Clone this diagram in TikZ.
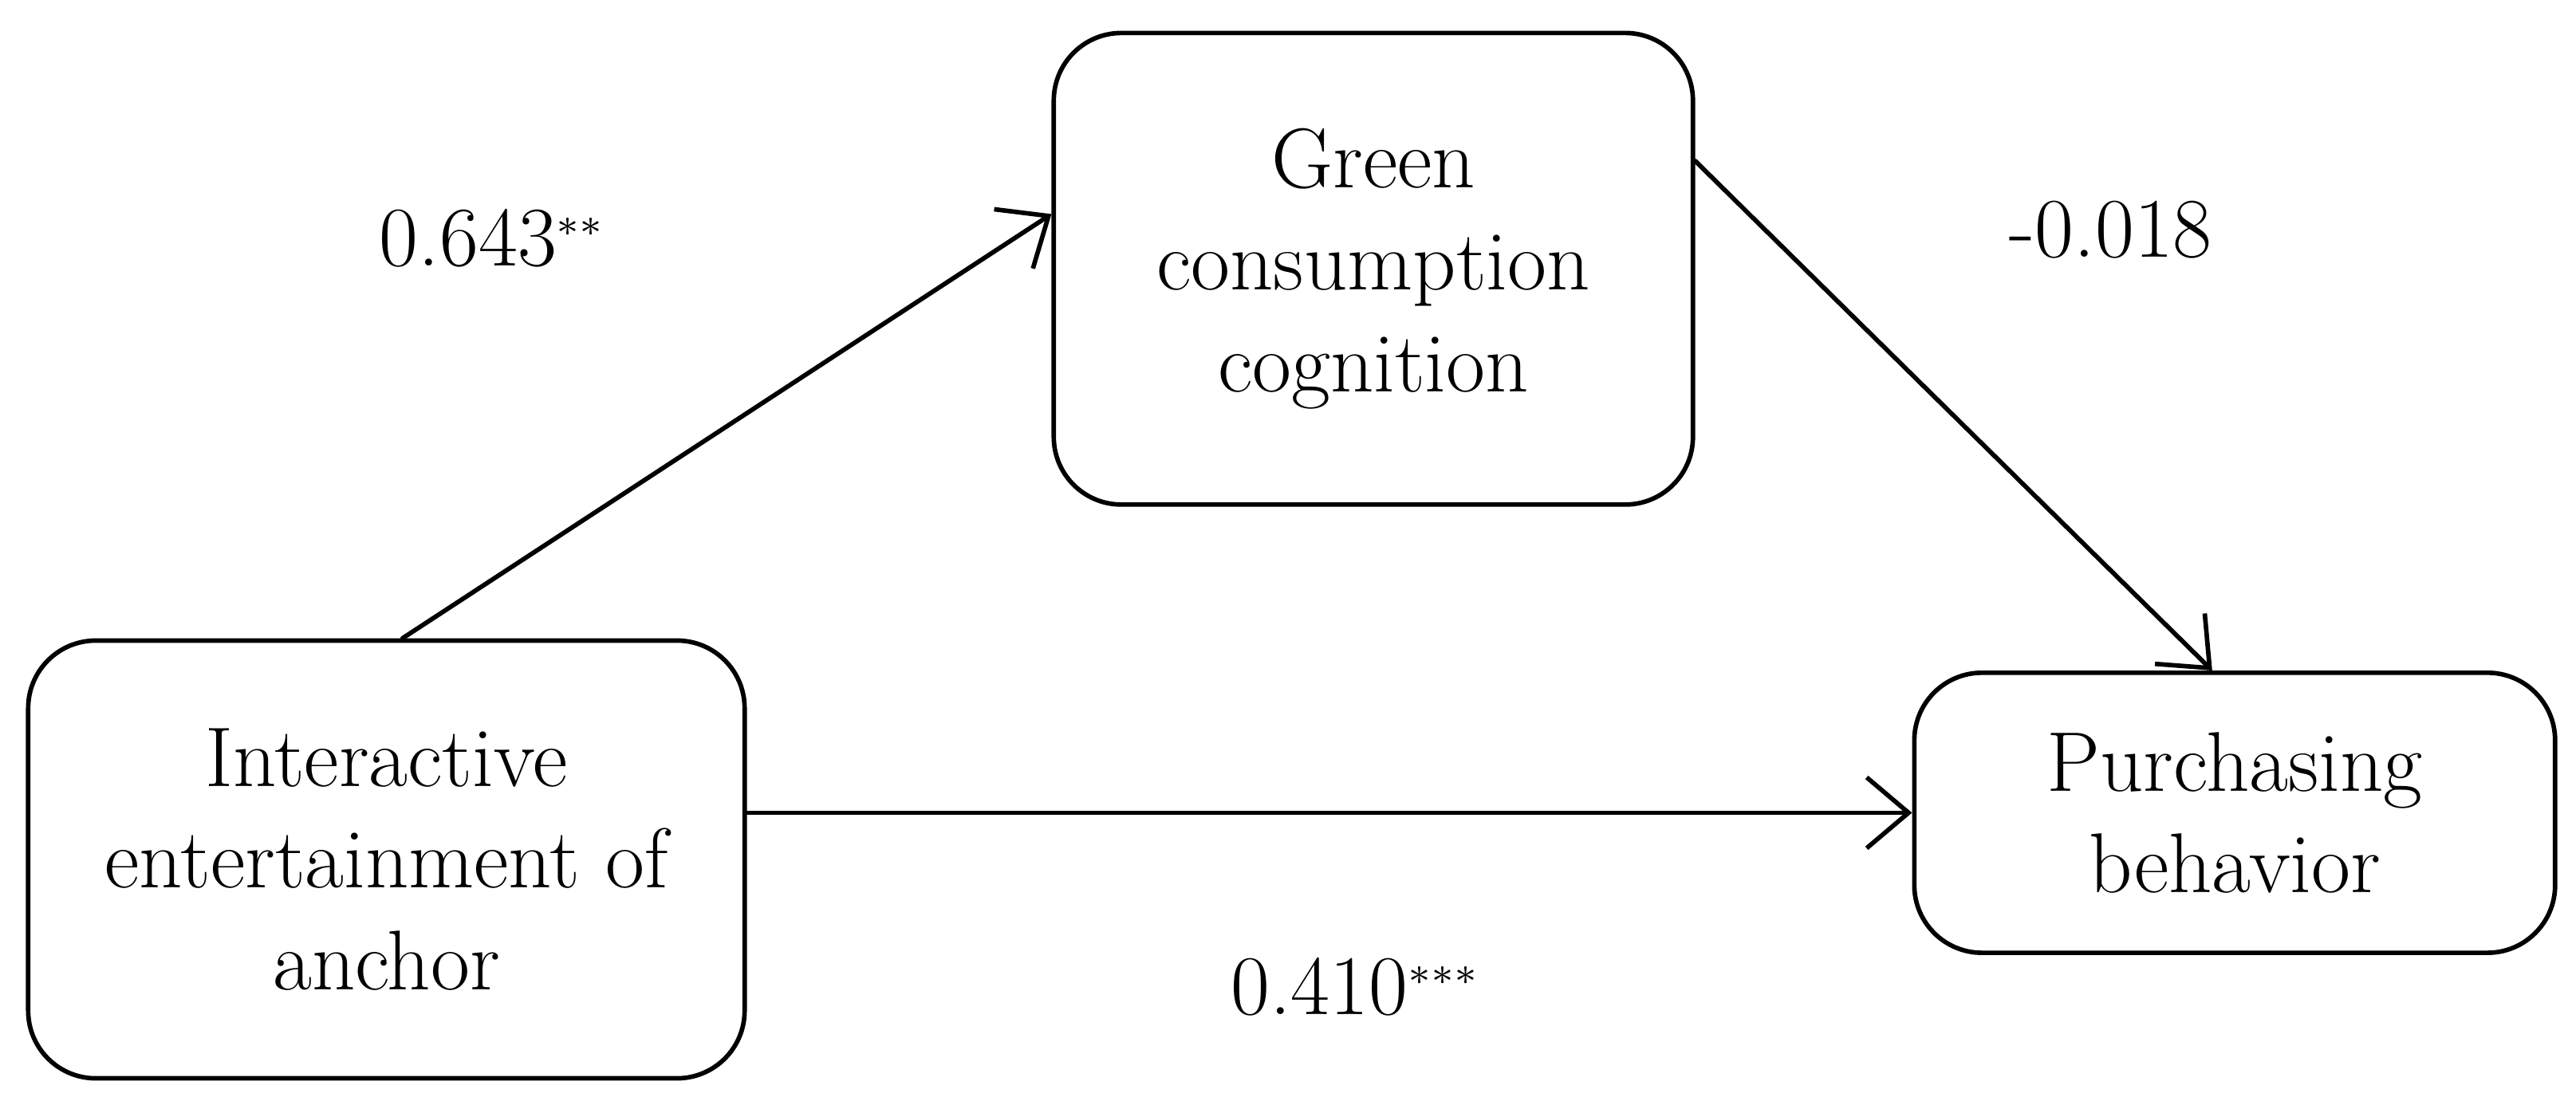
\documentclass[tikz,border=0pt]{standalone}
\usetikzlibrary{calc,arrows.meta}
\begin{document}
\begin{tikzpicture}[thick,line cap=round]
	\tikzstyle{box}=[draw,rounded corners=0.42cm,align=center,font=\fontsize{15}{18}\selectfont];
	\tikzstyle{coef}=[font=\fontsize{15}{18}\selectfont];
	\tikzstyle{arr}=[-{Straight Barb[length=2.6mm,width=4.4mm]}];
	\useasboundingbox (0,0) rectangle (16,6.84);
	%%
	\node[box,minimum width=4.45cm,minimum height=2.72cm] (inter) at (2.40,1.50) {Interactive\\entertainment of\\anchor};
	\node[box,minimum width=3.97cm,minimum height=2.93cm] (green) at (8.53,5.17) {Green\\consumption\\cognition};
	\node[box,minimum width=3.98cm,minimum height=1.74cm] (purch) at (13.88,1.79) {Purchasing\\behavior};
	%%
	\draw[arr] ([xshift=0.1cm]inter.north) -- ([yshift=0.34cm]green.west);
	\draw[arr] ([yshift=0.67cm]green.east) -- ([xshift=-0.14cm]purch.north);
	\draw[arr] (inter.east |- purch.west) -- (purch.west);
	%%
	\node[coef] (a) at (3.06,5.36) {0.643$^{\scriptscriptstyle **}$};
	\node[coef] (b) at (13.11,5.41) {-0.018};
	\node[coef] (c) at (8.42,0.71) {0.410$^{\scriptscriptstyle ***}$};
\end{tikzpicture}
\end{document}
